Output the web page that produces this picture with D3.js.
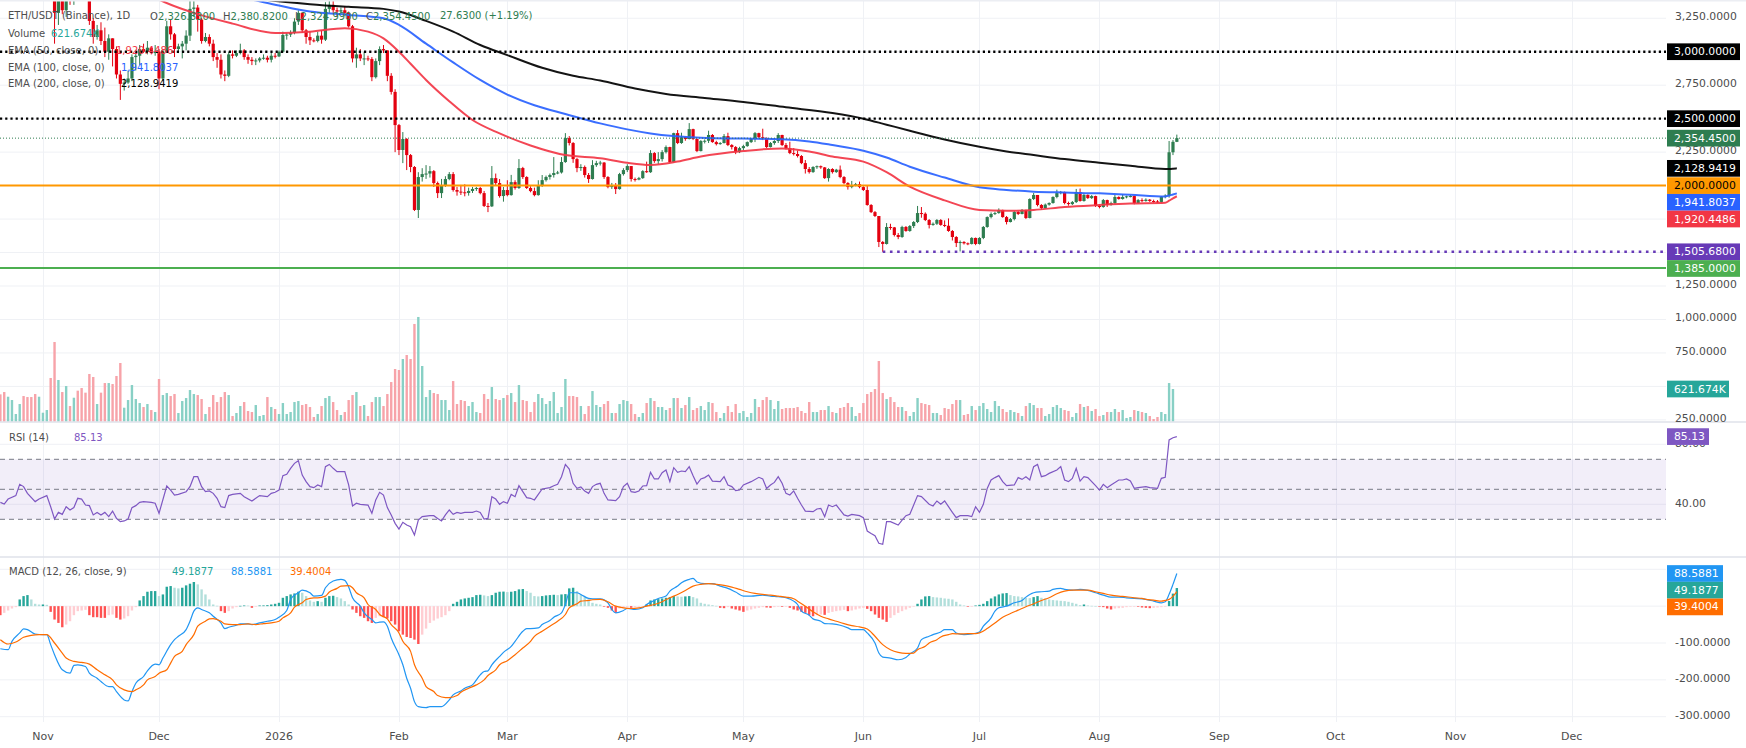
<!DOCTYPE html>
<html><head><meta charset="utf-8">
<script src="https://cdn.jsdelivr.net/npm/d3@7"></script>
<style>
html,body{margin:0;padding:0;background:#fff;overflow:hidden;}
svg{display:block;font-family:"DejaVu Sans","Liberation Sans",sans-serif;}
</style></head><body>
<svg id="chart" width="1746" height="748"></svg>
<script>
// ---------------- DATA ----------------
const symbolTitle = "ETH/USDT (Binance), 1D";
const startDate = "2025-10-21";           // first daily candle
const firstOpen = 3980;
const lastOpen = 2326.83;
const closes = [3880,3800,3850,3930,3950,4160,4120,3980,3900,3810,
3850,3880,3900,3600,3290,3420,3310,3440,3400,3580,
3560,3420,3410,3230,3110,3160,3080,3000,3100,3020,
2830,2760,2770,2800,2960,2970,3020,3000,3030,2990,
3000,2800,3000,3190,3130,3020,3040,3060,3120,3320,
3330,3240,3080,3110,3060,2960,2940,2830,2820,2980,
2970,2990,3010,2960,2940,2930,2935,2950,2955,2940,
2970,2965,3000,3125,3128,3140,3225,3290,3160,3110,
3085,3080,3120,3090,3320,3350,3310,3300,3310,3290,
3190,2950,2980,2950,2950,2945,2810,2930,3020,3010,
2820,2700,2452,2266,2348,2228,2139,1818,2064,2086,
2090,2108,2019,1944,2004,2049,2086,1967,1955,1950,
1945,1960,1975,1982,1944,1848,1845,2056,2019,1922,
1967,1929,2026,1982,2131,2064,1982,1959,1929,1997,
2041,2064,2079,2094,2098,2176,2355,2318,2198,2131,
2139,2079,2049,2153,2168,2172,2064,1989,1997,1974,
2086,2116,2146,2049,2045,2056,2108,2100,2243,2183,
2198,2250,2288,2176,2392,2318,2362,2348,2422,2348,
2258,2333,2335,2378,2325,2310,2318,2370,2303,2288,
2250,2280,2295,2325,2348,2392,2362,2355,2288,2318,
2333,2378,2303,2280,2243,2236,2221,2168,2124,2101,
2139,2145,2136,2056,2124,2101,2119,2064,2019,1989,
2004,2011,1989,1967,1855,1802,1773,1579,1564,1691,
1688,1631,1616,1691,1661,1698,1728,1795,1790,1743,
1706,1715,1743,1706,1700,1661,1616,1571,1579,1569,
1564,1609,1564,1609,1691,1765,1788,1795,1818,1765,
1728,1750,1803,1788,1818,1758,1900,1930,1855,1832,
1858,1870,1915,1944,1952,1870,1862,1877,1952,1885,
1930,1907,1922,1848,1840,1892,1855,1870,1915,1900,
1915,1920,1922,1870,1892,1885,1895,1885,1882,1878,
1917,1925,2249,2326.82,2354.45];
const highs = [4110,3900,3890,3990,3960,4180,4250,4170,4030,3910,
3880,3900,3920,3910,3640,3470,3440,3460,3470,3600,
3650,3600,3560,3470,3250,3200,3220,3180,3130,3100,
3040,2860,2800,2860,2980,2990,3050,3060,3080,3040,
3050,3020,3010,3230,3240,3140,3060,3080,3160,3400,
3440,3350,3250,3140,3130,3090,2990,2980,2860,3000,
3010,3010,3060,3020,2980,2960,2950,2960,2980,2970,
2990,2990,3010,3150,3140,3160,3250,3310,3290,3170,
3150,3100,3150,3160,3370,3400,3380,3330,3330,3340,
3300,3200,3030,3020,3000,2970,2960,2950,3040,3050,
3010,2840,2720,2460,2400,2355,2236,2146,2100,2130,
2153,2146,2116,2030,2050,2070,2101,2101,1990,2005,
2010,1985,1990,1990,1990,1960,1870,2146,2090,2049,
1990,2040,2080,2040,2198,2140,2070,1995,1985,2040,
2079,2075,2090,2213,2110,2213,2392,2370,2325,2206,
2160,2150,2094,2190,2185,2185,2176,2071,2020,2019,
2095,2130,2160,2146,2060,2065,2115,2179,2265,2250,
2250,2265,2300,2290,2395,2415,2395,2365,2467,2425,
2350,2340,2345,2410,2385,2335,2325,2385,2395,2310,
2295,2290,2305,2330,2355,2400,2395,2425,2360,2325,
2340,2392,2380,2318,2328,2280,2262,2228,2191,2139,
2145,2150,2150,2139,2130,2130,2125,2150,2071,2026,
2035,2020,2030,1995,1997,1862,1810,1773,1586,1720,
1715,1691,1646,1700,1698,1705,1735,1848,1840,1800,
1750,1725,1750,1750,1740,1755,1668,1623,1590,1585,
1575,1615,1612,1615,1698,1770,1800,1805,1830,1820,
1773,1758,1810,1810,1825,1820,1905,1945,1930,1862,
1866,1875,1920,1970,1960,1955,1880,1885,1975,1978,
1940,1935,1930,1925,1862,1900,1895,1880,1930,1920,
1935,1925,1930,1925,1900,1905,1905,1900,1895,1892,
1922,1935,2333,2340,2380.82];
const lows = [3760,3710,3780,3840,3900,3930,4100,3930,3880,3680,
3780,3840,3840,3500,3060,3200,3280,3260,3350,3350,
3540,3410,3380,3200,3060,3090,3050,2960,2940,2890,
2800,2640,2710,2760,2780,2860,2900,2990,2980,2980,
2970,2720,2780,2990,3090,2960,2990,2950,3010,3080,
3260,3150,3060,3070,3040,2930,2880,2800,2780,2810,
2950,2960,2980,2940,2910,2900,2900,2920,2940,2920,
2920,2950,2960,2990,3090,3110,3130,3200,3140,3060,
3050,3070,3070,3060,3080,3290,3290,3260,3280,3270,
3180,2920,2880,2930,2900,2930,2780,2800,2900,2990,
2780,2680,2250,2228,2168,2116,2100,1810,1758,2030,
2050,2060,1990,1907,1907,1990,2040,1955,1925,1930,
1920,1925,1945,1960,1935,1840,1802,1840,2000,1910,
1880,1920,1925,1970,1975,2050,1975,1950,1920,1925,
1990,2030,2045,2060,2085,2090,2170,2300,2170,2100,
2110,2060,2020,2045,2140,2150,2050,1980,1975,1937,
1970,2075,2101,2030,2030,2040,2050,2095,2095,2170,
2160,2180,2240,2170,2170,2310,2312,2335,2345,2340,
2250,2255,2315,2318,2320,2300,2305,2315,2295,2270,
2235,2243,2265,2290,2318,2325,2355,2340,2280,2285,
2305,2318,2295,2270,2235,2225,2210,2160,2090,2090,
2095,2125,2125,2050,2030,2090,2095,2055,2010,1970,
1980,1995,1980,1960,1850,1795,1765,1541,1505.68,1560,
1670,1620,1600,1610,1655,1655,1683,1720,1760,1735,
1680,1700,1706,1700,1690,1655,1590,1541,1508,1560,
1555,1560,1555,1560,1600,1685,1755,1780,1790,1760,
1710,1725,1740,1780,1785,1750,1755,1892,1845,1820,
1828,1850,1865,1905,1935,1860,1850,1855,1870,1880,
1880,1900,1900,1840,1830,1835,1840,1850,1860,1895,
1895,1905,1912,1860,1865,1875,1880,1878,1872,1870,
1872,1905,1910,2228,2324.99];
// volume in thousands (K); last session has no visible bar
const volumesK = [520,564,475,412,146,336,488,469,469,526,
475,171,222,831,1515,793,564,678,298,456,
590,640,552,907,850,336,552,735,735,716,
869,1116,266,412,697,431,355,279,336,222,
184,812,507,545,488,526,165,393,450,602,
526,507,431,146,279,507,374,469,564,507,
108,165,298,374,203,184,317,108,127,469,
279,241,146,355,146,184,374,393,317,336,
279,89,146,298,450,488,374,222,127,184,
412,507,564,298,317,108,374,469,469,298,
526,754,1002,983,1192,1268,1192,1858,1991,1059,
469,602,545,526,412,412,222,773,336,412,
393,298,374,184,165,526,431,659,431,412,
450,507,545,374,697,412,393,184,374,526,
450,336,393,564,165,279,812,488,488,469,
298,146,298,583,317,279,336,393,165,165,
336,412,393,336,146,89,165,355,450,393,
279,279,222,260,450,450,260,317,469,222,
260,298,222,374,355,184,70,165,298,184,
336,165,203,89,165,431,279,412,469,412,
241,393,241,260,260,260,279,203,165,374,
184,184,222,222,298,184,165,260,279,355,
279,108,165,355,526,564,621,1154,545,431,
469,374,279,279,203,108,184,450,355,336,
317,165,165,127,260,241,336,412,412,127,
146,298,222,298,355,241,184,393,298,241,
184,222,184,165,108,298,355,317,260,260,
108,146,279,317,260,222,203,89,165,336,
279,298,203,241,108,127,184,184,241,184,
222,70,89,222,203,184,165,108,51,89,
184,146,735,621.674,null];
const macdHist = [-24.5,-18.2,-11.8,-6.4,-2.7,18.2,27.3,30.0,18.2,6.4,
4.5,4.5,3.6,-15.5,-36.4,-45.5,-57.3,-50.0,-40.9,-24.5,
-13.6,-11.8,-10.0,-24.5,-30.0,-30.0,-31.8,-31.8,-24.5,-22.7,
-31.8,-36.4,-33.6,-27.3,-11.8,-2.7,15.5,27.3,39.1,40.9,
40.9,27.3,31.8,52.7,54.5,50.0,48.2,50.0,56.4,60.9,
65.5,59.1,45.5,31.8,18.2,4.5,1.0,-13.6,-18.2,-13.6,
-6.4,-2.7,0.9,1.8,1.5,-4.5,-0.5,1.8,2.0,2.7,
4.5,6.4,9.1,22.7,27.3,31.8,34.5,39.1,36.4,27.3,
15.5,11.8,13.6,11.8,22.7,27.3,28.2,24.5,20.9,13.6,
4.5,-9.1,-18.2,-27.3,-31.8,-40.9,-45.5,-31.8,-27.3,-30.0,
-33.6,-40.9,-50.0,-68.2,-77.3,-83.6,-86.4,-90.9,-102.7,-77.3,
-60.9,-45.5,-39.1,-33.6,-30.0,-24.5,-13.6,6.4,11.8,18.2,
20.9,22.7,24.5,30.0,30.9,29.1,27.3,30.0,36.4,39.1,
39.5,38.2,39.1,40.9,45.5,46.4,40.9,36.4,27.3,26.4,
27.3,29.1,30.0,30.9,30.0,31.8,32.7,48.2,50.0,40.9,
31.8,24.5,18.2,9.1,6.4,4.5,-0.9,-4.5,-11.8,-18.2,
-6.4,-4.5,-2.7,-4.5,-2.7,-0.9,-0.5,4.5,15.5,18.2,
19.1,20.9,22.7,24.5,27.3,26.4,25.5,26.4,27.3,24.5,
20.9,9.1,6.4,4.5,2.7,0.9,-4.5,-5.5,-2.7,-6.4,
-9.1,-11.8,-15.5,-11.8,-9.1,-6.4,-4.5,-2.7,-3.6,-4.5,
-2.7,-0.9,-1.8,-1.4,-4.5,-9.1,-11.8,-15.5,-18.2,-24.5,
-27.3,-24.5,-22.7,-23.6,-18.2,-15.5,-13.6,-11.8,-10.0,-13.6,
-11.8,-9.1,-6.4,-4.5,-7.3,-13.6,-22.7,-31.8,-36.4,-42.7,
-31.8,-24.5,-18.2,-13.6,-9.1,-4.5,-0.9,6.4,18.2,26.4,
27.3,24.5,23.6,22.7,20.9,20.0,18.2,11.8,4.5,1.8,
-0.9,-0.7,1.8,3.6,6.4,13.6,20.9,26.4,31.8,34.5,
35.5,30.0,27.3,26.4,24.5,22.7,21.8,24.5,27.3,22.7,
20.9,18.2,16.4,15.5,14.5,13.6,11.8,9.1,6.4,2.7,
4.5,1.8,0.9,0.5,-0.9,-2.7,-6.4,-9.1,-6.4,-5.5,
-4.5,-2.7,-1.8,-0.9,-1.2,-3.6,-4.5,-5.5,-4.5,-3.6,
-2.7,-1.8,14,34,49.1877];
// [session index, value]
const rsiPoints = [[0,41.3],[1,40.2],[2,43.5],[4,45.8],[5,53.3],[6,51.8],[7,47.3],[9,41.8],[10,43.5],[12,45.8],[13,38.4],[14,30.2],[15,34.6],[16,33.3],[17,38.4],[18,36.2],[19,37.8],[20,44.0],[21,43.5],[22,39.5],[23,39.1],[24,32.9],[25,34.6],[26,32.9],[27,34.6],[28,31.8],[29,35.5],[30,30.6],[31,28.4],[32,28.9],[33,30.2],[34,37.8],[35,39.1],[36,41.3],[37,41.8],[39,41.3],[40,40.7],[41,34.0],[43,52.2],[44,49.5],[45,46.2],[46,46.6],[48,48.4],[49,51.8],[50,58.4],[51,58.4],[52,51.8],[53,48.4],[54,48.9],[55,47.3],[56,44.0],[57,38.4],[58,37.8],[59,45.8],[60,46.6],[62,47.3],[63,45.1],[65,42.2],[66,44.0],[67,45.8],[69,45.1],[70,47.3],[71,48.0],[72,49.5],[73,59.1],[74,60.0],[75,64.0],[76,67.3],[77,69.1],[78,59.5],[79,55.1],[80,51.8],[81,51.1],[82,52.9],[83,51.8],[84,65.1],[85,66.6],[86,64.0],[87,61.8],[89,61.8],[90,52.9],[91,38.9],[92,40.7],[93,40.0],[95,39.5],[96,34.0],[97,42.9],[98,48.0],[99,46.2],[100,37.8],[101,32.9],[102,27.3],[103,23.5],[104,28.0],[105,26.2],[106,25.1],[107,19.5],[108,29.5],[109,31.8],[111,32.4],[112,32.4],[113,30.6],[114,28.9],[115,32.9],[116,36.2],[117,33.3],[118,34.6],[119,34.0],[120,34.6],[122,34.6],[123,35.5],[124,34.6],[125,30.2],[126,30.6],[127,45.1],[128,43.5],[129,40.0],[130,41.8],[131,40.7],[132,46.6],[133,45.1],[134,52.4],[135,48.4],[136,44.4],[137,44.0],[138,42.9],[139,46.6],[140,50.2],[142,51.1],[143,52.4],[144,53.3],[145,58.4],[146,66.6],[147,63.5],[148,54.0],[149,50.6],[150,51.5],[151,48.9],[152,47.3],[153,51.8],[154,53.3],[155,54.0],[156,47.3],[157,42.9],[159,42.4],[160,45.1],[161,51.8],[162,54.0],[163,48.4],[164,48.0],[165,48.9],[166,52.2],[167,52.4],[168,61.3],[169,56.9],[170,56.9],[171,61.1],[172,62.9],[173,55.1],[174,64.4],[175,61.3],[176,62.2],[177,61.8],[178,65.1],[179,59.1],[180,53.5],[181,56.9],[182,57.8],[183,59.5],[184,55.5],[186,55.1],[187,58.4],[188,52.9],[189,51.8],[190,49.1],[191,49.5],[192,52.9],[194,55.1],[196,58.0],[197,56.9],[198,50.6],[199,52.9],[200,54.6],[201,58.4],[202,54.0],[203,47.3],[204,46.2],[205,48.9],[206,44.0],[207,39.5],[208,35.5],[210,35.1],[211,36.9],[212,37.3],[213,31.8],[214,39.5],[215,38.4],[216,39.5],[218,32.9],[219,32.2],[220,33.3],[222,32.4],[223,31.1],[224,22.2],[225,20.6],[226,19.1],[227,14.0],[228,13.3],[229,28.4],[230,28.4],[232,26.2],[233,29.5],[234,32.4],[235,33.3],[236,39.5],[237,45.8],[238,45.1],[240,40.0],[241,38.9],[242,42.2],[243,40.0],[244,42.2],[245,38.4],[246,34.6],[247,31.1],[248,32.4],[250,32.4],[251,31.8],[252,38.4],[253,34.6],[254,40.0],[255,50.6],[256,56.2],[257,57.8],[258,59.1],[259,55.1],[260,52.4],[262,52.9],[263,57.8],[264,56.6],[265,58.4],[266,56.2],[267,65.1],[268,66.6],[269,58.4],[270,59.1],[271,60.6],[273,62.9],[274,65.1],[275,56.2],[276,55.1],[277,57.3],[278,64.0],[279,55.5],[280,58.4],[281,57.8],[283,52.4],[284,49.5],[285,53.3],[286,51.1],[287,52.9],[289,56.2],[290,56.2],[291,56.9],[292,55.5],[293,50.6],[294,51.1],[296,51.8],[297,51.1],[299,50.6],[300,57.3],[301,58.0],[302,82.9],[303,84.4],[304,85.13]];
const macdPoints = [[0,-115.5],[2,-118.2],[3,-95.5],[5,-72.7],[6,-61.8],[7,-63.6],[9,-75.5],[11,-77.3],[12,-77.3],[13,-104.5],[14,-131.8],[16,-172.7],[18,-181.8],[19,-160.9],[20,-159.1],[22,-163.6],[23,-181.8],[25,-195.5],[26,-204.5],[28,-218.2],[29,-218.2],[30,-231.8],[32,-254.5],[33,-257.3],[34,-231.8],[35,-209.1],[37,-190.9],[38,-175.5],[40,-157.3],[41,-159.1],[42,-140.9],[44,-104.5],[45,-90.9],[46,-81.8],[48,-63.6],[49,-40.9],[50,-13.6],[51,-4.5],[52,-9.1],[54,-18.2],[55,-27.3],[57,-45.5],[58,-60.9],[59,-57.3],[61,-51.8],[62,-48.2],[64,-48.2],[65,-50.0],[67,-45.5],[69,-40.9],[71,-36.4],[72,-30.0],[74,-11.8],[75,18.2],[77,36.4],[78,43.6],[80,36.4],[81,27.3],[83,29.1],[84,50.0],[86,68.2],[88,72.7],[89,70.0],[90,51.8],[91,22.7],[93,0],[94,-18.2],[96,-36.4],[97,-45.5],[98,-43.6],[99,-42.7],[100,-54.5],[101,-86.4],[103,-131.8],[104,-159.1],[105,-195.5],[106,-222.7],[107,-259.1],[108,-272.7],[110,-275.5],[111,-272.7],[113,-272.7],[114,-272.7],[116,-254.5],[117,-240.9],[119,-230.0],[120,-222.7],[122,-213.6],[124,-186.4],[125,-177.3],[126,-175.5],[127,-159.1],[129,-136.4],[130,-125.5],[132,-109.1],[133,-95.5],[135,-68.2],[136,-60.9],[137,-60.9],[139,-59.1],[140,-50.0],[142,-39.1],[143,-30.0],[145,-18.2],[146,4.5],[147,36.4],[149,36.4],[150,31.8],[152,20.9],[153,20.0],[155,20.0],[157,9.1],[158,-9.1],[159,-18.2],[161,-11.8],[162,-6.4],[164,-9.1],[166,-4.5],[167,4.5],[169,15.5],[170,20.9],[172,27.3],[173,40.9],[175,54.5],[176,63.6],[178,72.7],[179,75.5],[180,65.5],[182,60.9],[184,60.9],[186,54.5],[188,48.2],[190,38.2],[192,27.3],[194,27.3],[197,30.0],[199,27.3],[201,25.5],[203,22.7],[205,13.6],[206,4.5],[207,-13.6],[209,-24.5],[210,-34.5],[212,-40.9],[213,-47.3],[215,-48.2],[217,-51.8],[219,-59.1],[220,-63.6],[223,-63.6],[224,-72.7],[226,-100.0],[227,-127.3],[228,-138.2],[230,-140.9],[232,-145.5],[234,-139.1],[235,-130.0],[237,-113.6],[238,-90.9],[240,-81.8],[241,-77.3],[243,-70.0],[244,-63.6],[246,-63.6],[247,-72.7],[249,-77.3],[251,-75.5],[253,-70.0],[254,-54.5],[256,-31.8],[257,-13.6],[258,-4.5],[260,0],[262,9.1],[264,15.5],[265,24.5],[267,36.4],[269,39.1],[271,40.9],[272,45.5],[274,48.2],[275,45.5],[277,43.6],[279,45.5],[281,42.7],[283,36.4],[285,30.0],[287,24.5],[289,24.5],[291,22.7],[293,20.9],[296,18.2],[298,13.6],[300,9.1],[301,11.8],[302,32.0],[303,59.0],[304,88.5881]];
const signalPoints = [[0,-90.9],[2,-102.7],[4,-97.3],[6,-84.5],[8,-79.1],[10,-77.3],[12,-77.3],[14,-100.0],[16,-127.3],[17,-140.9],[19,-150.0],[21,-152.7],[23,-157.3],[25,-172.7],[27,-186.4],[29,-200.0],[30,-213.6],[32,-227.3],[34,-231.8],[35,-227.3],[37,-213.6],[38,-200.0],[40,-190.9],[41,-181.8],[43,-172.7],[44,-154.5],[45,-136.4],[47,-122.7],[48,-104.5],[50,-77.3],[51,-54.5],[53,-40.9],[54,-34.5],[55,-33.6],[57,-40.9],[58,-48.2],[60,-50.0],[62,-50.0],[64,-48.2],[66,-50.0],[68,-47.3],[70,-45.5],[72,-40.9],[73,-31.8],[75,-18.2],[76,-2.7],[78,9.1],[79,18.2],[81,22.7],[82,22.7],[84,27.3],[85,38.2],[87,48.2],[88,54.5],[90,55.5],[91,50.0],[92,36.4],[94,22.7],[95,4.5],[97,-9.1],[98,-22.7],[100,-34.5],[101,-50.0],[103,-72.7],[104,-95.5],[106,-122.7],[107,-159.1],[109,-195.5],[110,-218.2],[112,-231.8],[113,-242.7],[115,-248.2],[116,-248.2],[118,-242.7],[119,-233.6],[121,-222.7],[123,-213.6],[125,-200.0],[126,-188.2],[128,-172.7],[129,-159.1],[131,-148.2],[133,-131.8],[135,-113.6],[137,-95.5],[138,-81.8],[140,-68.2],[142,-54.5],[144,-40.9],[146,-22.7],[147,-4.5],[149,6.4],[150,13.6],[152,15.5],[153,17.3],[155,18.2],[157,11.8],[159,0],[161,-4.5],[163,-6.4],[165,-4.5],[167,0],[169,4.5],[171,11.8],[173,22.7],[175,31.8],[177,42.7],[179,54.5],[181,59.1],[183,60.9],[185,59.1],[187,56.4],[189,51.8],[191,45.5],[193,39.1],[195,34.5],[197,31.8],[199,30.0],[201,27.3],[203,24.5],[205,20.0],[206,13.6],[208,0],[210,-15.5],[212,-27.3],[214,-34.5],[216,-40.9],[218,-47.3],[220,-52.7],[222,-56.4],[224,-61.8],[226,-81.8],[228,-104.5],[230,-118.2],[232,-125.5],[234,-128.2],[236,-127.3],[237,-118.2],[239,-109.1],[240,-100.0],[242,-90.9],[243,-83.6],[245,-77.3],[246,-74.5],[248,-75.5],[250,-74.5],[252,-74.5],[253,-72.7],[255,-60.9],[257,-45.5],[259,-30.0],[261,-20.0],[263,-10.9],[265,-1.8],[267,6.4],[269,15.5],[271,22.7],[273,33.6],[275,40.9],[277,43.6],[279,43.6],[281,43.6],[283,39.1],[285,34.5],[287,30.0],[289,27.3],[291,25.5],[293,22.7],[295,20.9],[296,18.2],[298,16.4],[300,13.6],[301,15.5],[302,18.4],[303,26.5],[304,39.4004]];
const ema50Points = [[0,3990],[10,3960],[20,3800],[30,3600],[41,3390],[50,3290],[60,3210],[71,3140],[80,3150],[89,3176],[95,3150],[99,3100],[103,3000],[106,2910],[110,2789],[116,2630],[122,2490],[129,2390],[137,2300],[146,2228],[155,2204],[162,2170],[168,2154],[175,2180],[181,2217],[192,2258],[202,2278],[209,2255],[215,2217],[223,2179],[229,2100],[235,1992],[244,1890],[253,1818],[260,1812],[267,1818],[275,1840],[284,1855],[292,1866],[301,1872],[302,1887],[303,1905],[304,1920.4486]];
const ema100Points = [[0,3950],[20,3800],[41,3560],[55,3450],[65,3390],[72,3345],[80,3300],[90,3275],[99,3250],[103,3200],[110,3060],[117,2920],[124,2789],[131,2680],[138,2600],[146,2535],[155,2465],[162,2420],[168,2390],[181,2358],[192,2351],[202,2346],[209,2330],[215,2303],[223,2261],[229,2210],[235,2141],[244,2060],[253,1987],[260,1968],[267,1955],[275,1948],[284,1942],[292,1932],[301,1919.5],[302,1926],[303,1934],[304,1941.8037]];
const ema200Points = [[0,3640],[20,3590],[41,3510],[55,3450],[69,3386],[80,3355],[90,3335],[99,3320],[103,3300],[110,3230],[117,3150],[124,3050],[131,2975],[140,2880],[148,2820],[155,2785],[164,2725],[172,2685],[182,2655],[192,2625],[203,2585],[215,2542],[223,2500],[229,2455],[235,2410],[244,2345],[253,2290],[260,2255],[267,2228],[275,2198],[284,2171],[292,2148],[301,2123.3],[302,2124.6],[303,2126.6],[304,2128.9419]];
// horizontal levels
const dottedLevels = [3000, 2500];
const orangeLevel = 2000;
const greenLevel = 1385;
const lowLevel = 1505.68, lowLevelIndex = 228;
// axes
const priceTicks = [250,500,750,1000,1250,1500,1750,2000,2250,2500,2750,3000,3250];
const rsiTicks = [40, 80];
const rsiBands = [70, 50, 30];
const macdTicks = [100, 0, -100, -200, -300];
const monthTicks = ["2025-11-01","2025-12-01","2026-01-01","2026-02-01","2026-03-01","2026-04-01","2026-05-01","2026-06-01","2026-07-01","2026-08-01","2026-09-01","2026-10-01","2026-11-01","2026-12-01"];
const monthLabels = ["Nov","Dec","2026","Feb","Mar","Apr","May","Jun","Jul","Aug","Sep","Oct","Nov","Dec"];

// ---------------- SETUP ----------------
const W = 1746, PR = 1666;
const P = {price:[0,422], rsi:[422,557], macd:[557,722]};
const UP = "#2e7d50", DOWN = "#e3000f";
const VUP = "#88d0c5", VDOWN = "#f7a3a9";
const GRID = "#eff1f5", AXT = "#4d4d4d", LEG = "#4d4d4d";
const FONT_AX = 10.8, FONT_T = 11, FONT_LEG = 10, BH = 16.7;

const parse = d3.utcParse("%Y-%m-%d");
const t0 = parse(startDate);
const dates = closes.map((_, i) => d3.utcDay.offset(t0, i));
const opens = closes.map((c, i) => i === 0 ? firstOpen : closes[i - 1]);
opens[opens.length - 1] = lastOpen;
const N = closes.length;

const x = d3.scaleUtc().domain([parse("2026-01-01"), parse("2026-12-01")]).range([279, 279 + 334 * 3.87]);
const yP = d3.scaleLinear().domain([250, 3250]).range([419.9, 18.25]);
const yV = d3.scaleLinear().domain([0, 621.674]).range([421.7, 389]);
const yR = d3.scaleLinear().domain([30, 70]).range([519.3, 459.3]);
const yM = d3.scaleLinear().domain([-300, 100]).range([716.7, 569.3]);
const cx = i => x(dates[i]);

const svg = d3.select("#chart");
svg.append("rect").attr("width", W).attr("height", 748).attr("fill", "#fff");
const defs = svg.append("defs");
function clip(id, x0, y0, w, h) {
  defs.append("clipPath").attr("id", id).append("rect").attr("x", x0).attr("y", y0).attr("width", w).attr("height", h);
}
clip("cP", 0, P.price[0], PR, P.price[1] - P.price[0]);
clip("cR", 0, P.rsi[0], PR, P.rsi[1] - P.rsi[0]);
clip("cM", 0, P.macd[0], PR, P.macd[1] - P.macd[0]);
clip("cPA", PR, 0, W - PR, P.price[1]);

// ---------------- GRID ----------------
const grid = svg.append("g").attr("stroke", GRID).attr("stroke-width", 1);
grid.selectAll(".v").data(monthTicks).join("line")
  .attr("x1", d => Math.round(x(parse(d))) + 0.5).attr("x2", d => Math.round(x(parse(d))) + 0.5)
  .attr("y1", 0).attr("y2", P.macd[1]);
grid.selectAll(".hp").data(priceTicks).join("line").attr("class","hp")
  .attr("x1", 0).attr("x2", PR).attr("y1", d => yP(d)).attr("y2", d => yP(d));
grid.selectAll(".hr").data(rsiTicks).join("line").attr("class","hr")
  .attr("x1", 0).attr("x2", PR).attr("y1", d => yR(d)).attr("y2", d => yR(d));
grid.selectAll(".hm").data(macdTicks).join("line").attr("class","hm")
  .attr("x1", 0).attr("x2", PR).attr("y1", d => yM(d)).attr("y2", d => yM(d));

// ---------------- PRICE PANE ----------------
const gp = svg.append("g").attr("clip-path", "url(#cP)");
gp.selectAll(".vol").data(d3.range(N).filter(i => volumesK[i] != null)).join("rect")
  .attr("x", i => cx(i) - 1.2).attr("width", 2.4)
  .attr("y", i => yV(volumesK[i])).attr("height", i => yV(0) - yV(volumesK[i]))
  .attr("fill", i => closes[i] >= opens[i] ? VUP : VDOWN);
const cg = gp.selectAll(".c").data(d3.range(N)).join("g");
cg.append("line")
  .attr("x1", i => cx(i)).attr("x2", i => cx(i))
  .attr("y1", i => yP(highs[i])).attr("y2", i => yP(lows[i]))
  .attr("stroke", i => closes[i] >= opens[i] ? UP : DOWN).attr("stroke-width", 1);
cg.append("rect")
  .attr("x", i => cx(i) - 1.6).attr("width", 3.2)
  .attr("y", i => yP(Math.max(opens[i], closes[i])))
  .attr("height", i => Math.max(1, Math.abs(yP(opens[i]) - yP(closes[i]))))
  .attr("fill", i => closes[i] >= opens[i] ? UP : DOWN);
const emaLine = d3.line().x(p => cx(p[0])).y(p => yP(p[1])).curve(d3.curveMonotoneX);
[[ema200Points, "#000000"], [ema100Points, "#2962ff"], [ema50Points, "#f23645"]].forEach(([pts, col]) => {
  gp.append("path").attr("d", emaLine(pts)).attr("fill", "none").attr("stroke", col).attr("stroke-width", 2).attr("stroke-opacity", 0.92);
});
gp.append("line").attr("x1", 0).attr("x2", PR).attr("y1", yP(orangeLevel)).attr("y2", yP(orangeLevel))
  .attr("stroke", "#ff9800").attr("stroke-width", 2);
gp.append("line").attr("x1", 0).attr("x2", PR).attr("y1", yP(greenLevel)).attr("y2", yP(greenLevel))
  .attr("stroke", "#4caf50").attr("stroke-width", 2);
gp.selectAll(".dl").data(dottedLevels).join("line")
  .attr("x1", 0).attr("x2", PR).attr("y1", d => yP(d)).attr("y2", d => yP(d))
  .attr("stroke", "#000").attr("stroke-width", 2.4).attr("stroke-dasharray", "2.2,3");
gp.append("line").attr("x1", cx(lowLevelIndex)).attr("x2", PR).attr("y1", yP(lowLevel)).attr("y2", yP(lowLevel))
  .attr("stroke", "#673ab7").attr("stroke-width", 2.4).attr("stroke-dasharray", "2.6,4.6");
gp.append("line").attr("x1", 0).attr("x2", PR).attr("y1", yP(closes[N - 1])).attr("y2", yP(closes[N - 1]))
  .attr("stroke", UP).attr("stroke-width", 1).attr("stroke-dasharray", "1,2");

// ---------------- RSI PANE ----------------
const gr = svg.append("g").attr("clip-path", "url(#cR)");
gr.append("rect").attr("x", 0).attr("width", PR).attr("y", yR(70)).attr("height", yR(30) - yR(70))
  .attr("fill", "rgba(126,87,194,0.1)");
gr.selectAll(".rb").data(rsiBands).join("line")
  .attr("x1", 0).attr("x2", PR).attr("y1", d => yR(d)).attr("y2", d => yR(d))
  .attr("stroke", "#787b86").attr("stroke-width", 1).attr("stroke-dasharray", "5,4");
gr.append("path").attr("d", d3.line().x(p => cx(p[0])).y(p => yR(p[1]))(rsiPoints))
  .attr("fill", "none").attr("stroke", "#7e57c2").attr("stroke-width", 1.2);

// ---------------- MACD PANE ----------------
const gm = svg.append("g").attr("clip-path", "url(#cM)");
gm.selectAll(".h").data(d3.range(N)).join("rect")
  .attr("x", i => cx(i) - 1.2).attr("width", 2.4)
  .attr("y", i => Math.min(yM(0), yM(macdHist[i])))
  .attr("height", i => Math.max(0.6, Math.abs(yM(macdHist[i]) - yM(0))))
  .attr("fill", i => {
    const v = macdHist[i], p = i > 0 ? macdHist[i - 1] : v;
    return v >= 0 ? (v >= p ? "#26a69a" : "#b2dfdb") : (v > p ? "#ffcdd2" : "#ff5252");
  });
const mLine = d3.line().x(p => cx(p[0])).y(p => yM(p[1])).curve(d3.curveMonotoneX);
gm.append("path").attr("d", mLine(macdPoints)).attr("fill", "none").attr("stroke", "#2196f3").attr("stroke-width", 1.2);
gm.append("path").attr("d", mLine(signalPoints)).attr("fill", "none").attr("stroke", "#ff6d00").attr("stroke-width", 1.2);

// ---------------- SEPARATORS ----------------
svg.append("line").attr("x1", 0).attr("x2", W).attr("y1", 0.75).attr("y2", 0.75).attr("stroke", "#eceef3").attr("stroke-width", 1.5);
[P.rsi[0], P.macd[0]].forEach(y => svg.append("line").attr("x1", 0).attr("x2", W).attr("y1", y).attr("y2", y)
  .attr("stroke", "#dfe2ea").attr("stroke-width", 1.5));

// ---------------- BADGE LAYOUT ----------------
const fmtP = d3.format(",.4f");
const last = a => a[a.length - 1][1];
const lastVol = volumesK.filter(v => v != null).slice(-1)[0];
function stack(list) {
  list.sort((a, b) => a.y - b.y);
  for (let i = 1; i < list.length; i++) if (list[i].y - list[i - 1].y < BH) list[i].y = list[i - 1].y + BH;
  return list;
}
const rsiBadge = {y: yR(last(rsiPoints)), t: d3.format(".2f")(last(rsiPoints)), bg: "#7e57c2", fg: "#fff", w: 42};
const badgeGroups = [
  stack([
    {y: yP(dottedLevels[0]), t: fmtP(dottedLevels[0]), bg: "#000", fg: "#fff", w: 73},
    {y: yP(dottedLevels[1]), t: fmtP(dottedLevels[1]), bg: "#000", fg: "#fff", w: 73},
    {y: yP(closes[N - 1]), t: fmtP(closes[N - 1]), bg: UP, fg: "#fff", w: 73},
    {y: yP(last(ema200Points)), t: fmtP(last(ema200Points)), bg: "#000", fg: "#fff", w: 73},
    {y: yP(orangeLevel), t: fmtP(orangeLevel), bg: "#ff9800", fg: "#000", w: 73},
    {y: yP(last(ema100Points)), t: fmtP(last(ema100Points)), bg: "#2962ff", fg: "#fff", w: 73},
    {y: yP(last(ema50Points)), t: fmtP(last(ema50Points)), bg: "#f23645", fg: "#fff", w: 73},
    {y: yP(lowLevel), t: fmtP(lowLevel), bg: "#673ab7", fg: "#fff", w: 73},
    {y: yP(greenLevel), t: fmtP(greenLevel), bg: "#4caf50", fg: "#fff", w: 73}
  ]),
  stack([{y: yV(lastVol), t: d3.format(".3f")(lastVol) + "K", bg: "#26a69a", fg: "#fff", w: 62}]),
  stack([rsiBadge]),
  stack([
    {y: yM(last(macdPoints)), t: d3.format(".4f")(last(macdPoints)), bg: "#2196f3", fg: "#fff", w: 56},
    {y: yM(macdHist[N - 1]), t: d3.format(".4f")(macdHist[N - 1]), bg: "#26a69a", fg: "#fff", w: 56},
    {y: yM(last(signalPoints)), t: d3.format(".4f")(last(signalPoints)), bg: "#ff6d00", fg: "#fff", w: 56}
  ])
];
const badgeYs = badgeGroups.flat().map(b => b.y);
const free = y => badgeYs.every(b => Math.abs(b - y) > 6.5);
// RSI scale labels are only visible below the RSI value badge
clip("cRA", PR, rsiBadge.y + BH / 2, W - PR, P.rsi[1] - rsiBadge.y - BH / 2);

// ---------------- AXES ----------------
svg.append("g").attr("clip-path", "url(#cPA)").selectAll("text").data(priceTicks.filter(d => free(yP(d)))).join("text")
  .attr("x", 1675).attr("y", d => yP(d) - 1.5).attr("dominant-baseline", "central")
  .attr("font-size", FONT_AX).attr("fill", AXT).text(d => fmtP(d));
svg.append("g").attr("clip-path", "url(#cRA)").selectAll("text").data(rsiTicks.filter(d => free(yR(d)))).join("text")
  .attr("x", 1675).attr("y", d => yR(d) - 1).attr("dominant-baseline", "central")
  .attr("font-size", FONT_AX).attr("fill", AXT).text(d => d3.format(".2f")(d));
svg.append("g").selectAll("text").data(macdTicks.filter(d => free(yM(d)))).join("text")
  .attr("x", 1675).attr("y", d => yM(d) - 1).attr("dominant-baseline", "central")
  .attr("font-size", FONT_AX).attr("fill", AXT).text(d => d3.format(".4f")(d).replace("\u2212", "-"));
svg.append("g").selectAll("text").data(monthTicks).join("text")
  .attr("x", d => x(parse(d))).attr("y", 736).attr("dominant-baseline", "central").attr("text-anchor", "middle")
  .attr("font-size", FONT_T).attr("fill", AXT).text((d, i) => monthLabels[i]);

// ---------------- BADGES ----------------
const bg = svg.append("g");
badgeGroups.flat().forEach(b => {
  bg.append("rect").attr("x", 1667).attr("y", b.y - BH / 2).attr("width", b.w).attr("height", BH).attr("fill", b.bg);
  bg.append("text").attr("x", 1674).attr("y", b.y).attr("dominant-baseline", "central")
    .attr("font-size", FONT_AX).attr("fill", b.fg).text(b.t);
});

// ---------------- LEGENDS ----------------
const lg = svg.append("g").attr("font-size", FONT_LEG).attr("dominant-baseline", "central");
function txt(xp, yp, s, col) { lg.append("text").attr("x", xp).attr("y", yp).attr("fill", col).text(s); }
txt(8, 15.7, symbolTitle, LEG);
const L = N - 1, chg = closes[L] - closes[L - 1];
const ohlc = [["O", opens[L], 150], ["H", highs[L], 223], ["L", lows[L], 295], ["C", closes[L], 366]];
ohlc.forEach(([k, v, xp]) => {
  const t = lg.append("text").attr("x", xp).attr("y", 15.7);
  t.append("tspan").attr("fill", LEG).text(k);
  t.append("tspan").attr("fill", UP).text(fmtP(v));
});
txt(440, 15.7, d3.format(".4f")(chg) + " (+" + d3.format(".2f")(chg / closes[L - 1] * 100) + "%)", UP);
txt(8, 33, "Volume", LEG); txt(51, 33, d3.format(".3f")(lastVol) + "K", "#26a69a");
txt(8, 50, "EMA (50, close, 0)", LEG); txt(116, 50, fmtP(last(ema50Points)), "#f23645");
txt(8, 67, "EMA (100, close, 0)", LEG); txt(121, 67, fmtP(last(ema100Points)), "#2962ff");
txt(8, 83.7, "EMA (200, close, 0)", LEG); txt(121, 83.7, fmtP(last(ema200Points)), "#000");
txt(9, 437.7, "RSI (14)", LEG); txt(74, 437.7, d3.format(".2f")(last(rsiPoints)), "#7e57c2");
txt(9, 571.7, "MACD (12, 26, close, 9)", LEG);
txt(172, 571.7, d3.format(".4f")(macdHist[N - 1]), "#26a69a");
txt(231, 571.7, d3.format(".4f")(last(macdPoints)), "#2196f3");
txt(290, 571.7, d3.format(".4f")(last(signalPoints)), "#ff6d00");
</script>
</body></html>
